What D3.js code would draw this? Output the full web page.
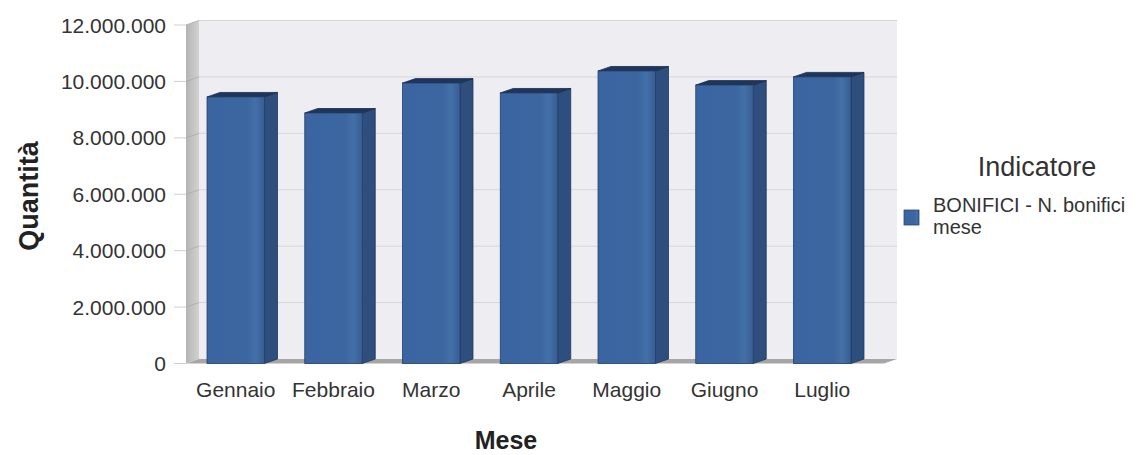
<!DOCTYPE html>
<html>
<head>
<meta charset="utf-8">
<script src="https://cdn.jsdelivr.net/npm/d3@7"></script>
<style>
  html, body { margin: 0; padding: 0; background: #ffffff; }
  text { font-family: "Liberation Sans", Arial, sans-serif; }
</style>
</head>
<body>
<div id="chart"></div>
<script>
// Monthly bank transfers, 3D-style column chart
const months = ["Gennaio", "Febbraio", "Marzo", "Aprile", "Maggio", "Giugno", "Luglio"];
const bonifici = [9450000, 8880000, 9940000, 9590000, 10370000, 9870000, 10160000];
const yTicks = [0, 2000000, 4000000, 6000000, 8000000, 10000000, 12000000];
const seriesName = ["BONIFICI - N. bonifici", "mese"];

const width = 1142, height = 455;
const dx = 13, dy = -4.5; // depth offset of the back wall

const svg = d3.select("#chart").append("svg")
  .attr("width", width)
  .attr("height", height)
  .attr("viewBox", [0, 0, width, height]);

const it = d3.formatLocale({decimal: ",", thousands: ".", grouping: [3], currency: ["€", ""]});
const fmt = it.format(",d");

// front plane scales
const y = d3.scaleLinear().domain([0, 12000000]).range([363.5, 25]);
const x = d3.scaleBand().domain(months).range([186, 872]).paddingInner(0.412).paddingOuter(0.215);
const plotLeft = 186, plotRight = 884;

const defs = svg.append("defs");
const gFront = defs.append("linearGradient").attr("id", "front");
gFront.append("stop").attr("offset", "0%").attr("stop-color", "#3a65a0");
gFront.append("stop").attr("offset", "70%").attr("stop-color", "#3b66a0");
gFront.append("stop").attr("offset", "84%").attr("stop-color", "#4470a8");
gFront.append("stop").attr("offset", "100%").attr("stop-color", "#375e94");
const gWall = defs.append("linearGradient").attr("id", "wall");
gWall.append("stop").attr("offset", "0%").attr("stop-color", "#b4b4b4");
gWall.append("stop").attr("offset", "100%").attr("stop-color", "#d2d2d2");

// back wall
svg.append("rect")
  .attr("x", plotLeft + dx).attr("y", y(12000000) + dy)
  .attr("width", plotRight - plotLeft).attr("height", y(0) - y(12000000))
  .attr("fill", "#eeeef2");

// left wall
svg.append("polygon")
  .attr("points", [[plotLeft, y(12000000)], [plotLeft + dx, y(12000000) + dy],
                   [plotLeft + dx, y(0) + dy], [plotLeft, y(0)]].join(" "))
  .attr("fill", "url(#wall)");

// gridlines on back wall and left wall, tick marks
const grid = svg.append("g");
grid.selectAll("line.back").data(yTicks.slice(1)).join("line")
  .attr("x1", plotLeft + dx).attr("x2", plotRight + dx)
  .attr("y1", d => y(d) + dy).attr("y2", d => y(d) + dy)
  .attr("stroke", "#d6d6da").attr("stroke-width", 1);
grid.selectAll("line.side").data(yTicks.slice(1)).join("line")
  .attr("x1", plotLeft).attr("x2", plotLeft + dx)
  .attr("y1", d => y(d)).attr("y2", d => y(d) + dy)
  .attr("stroke", "#a9a9a9").attr("stroke-width", 0.8);
grid.selectAll("line.tick").data(yTicks).join("line")
  .attr("x1", plotLeft - 12).attr("x2", plotLeft)
  .attr("y1", d => y(d)).attr("y2", d => y(d))
  .attr("stroke", "#cfcfcf").attr("stroke-width", 1);

// floor
svg.append("polygon")
  .attr("points", [[plotLeft, y(0)], [plotLeft + dx, y(0) + dy],
                   [plotRight + dx, y(0) + dy], [plotRight, y(0)]].join(" "))
  .attr("fill", "#a6a6a6");

// y tick labels
svg.append("g").selectAll("text").data(yTicks).join("text")
  .attr("x", 166).attr("y", d => y(d) + 2)
  .attr("text-anchor", "end").attr("dominant-baseline", "middle")
  .attr("font-size", 21).attr("fill", "#333")
  .text(d => fmt(d));

// bars
const bars = svg.append("g").selectAll("g").data(months.map((m, i) => ({m, v: bonifici[i]}))).join("g");
const bw = x.bandwidth();
bars.append("polygon") // side
  .attr("points", d => {
    const x0 = x(d.m) + bw, yt = y(d.v), yb = y(0);
    return [[x0, yt], [x0 + dx, yt + dy], [x0 + dx, yb + dy], [x0, yb]].join(" ");
  })
  .attr("fill", "#2e4e7e").attr("stroke", "#1f365c").attr("stroke-width", 0.8);
bars.append("polygon") // top
  .attr("points", d => {
    const x0 = x(d.m), yt = y(d.v);
    return [[x0, yt], [x0 + dx, yt + dy], [x0 + bw + dx, yt + dy], [x0 + bw, yt]].join(" ");
  })
  .attr("fill", "#1f365c").attr("stroke", "#1a2d4d").attr("stroke-width", 0.8);
bars.append("rect") // front
  .attr("x", d => x(d.m)).attr("y", d => y(d.v))
  .attr("width", bw).attr("height", d => y(0) - y(d.v))
  .attr("fill", "url(#front)").attr("stroke", "#24406a").attr("stroke-width", 0.8);

// x labels
svg.append("g").selectAll("text").data(months).join("text")
  .attr("x", d => x(d) + bw / 2).attr("y", 397)
  .attr("text-anchor", "middle").attr("font-size", 21).attr("fill", "#333")
  .text(d => d);

// axis titles
svg.append("text")
  .attr("x", 506).attr("y", 449)
  .attr("text-anchor", "middle").attr("font-size", 25).attr("font-weight", "bold").attr("fill", "#222")
  .text("Mese");
svg.append("text")
  .attr("transform", "translate(38,196) rotate(-90)")
  .attr("text-anchor", "middle").attr("font-size", 27).attr("font-weight", "bold").attr("fill", "#222")
  .text("Quantità");

// legend
const legend = svg.append("g");
legend.append("text")
  .attr("x", 1037).attr("y", 176)
  .attr("text-anchor", "middle").attr("font-size", 27).attr("fill", "#333")
  .text("Indicatore");
legend.append("rect")
  .attr("x", 904).attr("y", 210).attr("width", 15).attr("height", 15)
  .attr("fill", "url(#front)").attr("stroke", "#2a4a78").attr("stroke-width", 0.8);
legend.append("text")
  .attr("x", 933).attr("y", 212)
  .attr("font-size", 20).attr("fill", "#333")
  .selectAll("tspan").data(seriesName).join("tspan")
  .attr("x", 933).attr("dy", (d, i) => i === 0 ? 0 : 22)
  .text(d => d);
</script>
</body>
</html>
